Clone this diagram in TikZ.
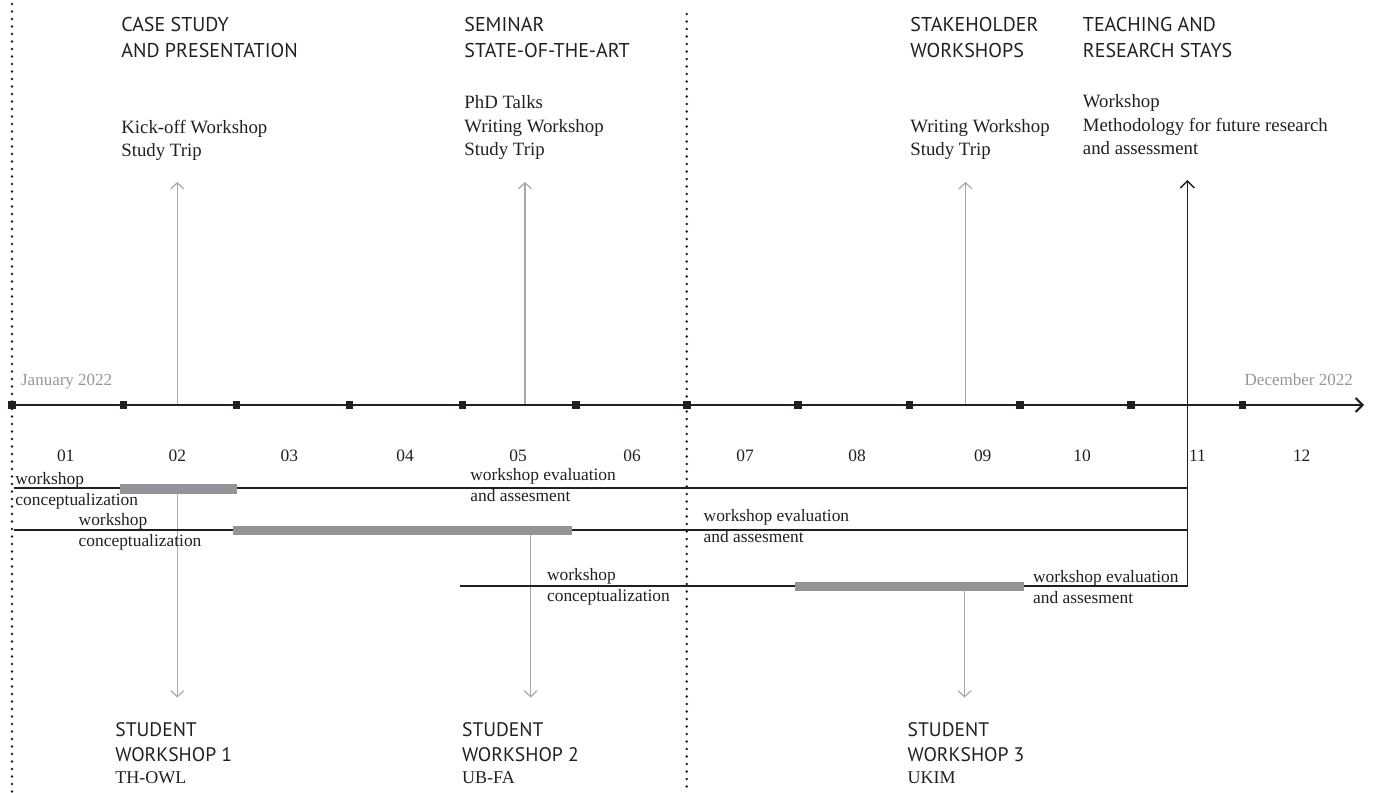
\documentclass[tikz,border=0pt]{standalone}
\usepackage{fontspec}
\setmainfont{Liberation Serif}
\newfontfamily\hsans{PT Sans}
\usetikzlibrary{arrows.meta}
\definecolor{ink}{RGB}{35,31,32}
\definecolor{lgray}{RGB}{168,168,172}
\definecolor{bargray}{RGB}{147,147,152}
\definecolor{dategray}{RGB}{150,150,150}
\tikzset{
 heading/.style={font=\hsans\fontsize{10}{12.8}\selectfont, text=ink, align=left, anchor=base west, inner sep=0pt},
 subhead/.style={font=\hsans\fontsize{9.8}{12.85}\selectfont, text=ink, align=left, anchor=base west, inner sep=0pt},
 body/.style={font=\fontsize{9.4}{11.75}\selectfont, text=ink, align=left, anchor=base west, inner sep=0pt},
 note/.style={font=\fontsize{8.7}{10.5}\selectfont, text=ink, align=left, anchor=base west, inner sep=0pt},
 place/.style={font=\fontsize{9}{11}\selectfont, text=ink, anchor=base west, inner sep=0pt},
 month/.style={font=\fontsize{8.7}{11}\selectfont, text=ink, anchor=base, inner sep=0pt},
 datelbl/.style={font=\fontsize{8.5}{11}\selectfont, text=dategray, anchor=base west, inner sep=0pt},
 tick/.style={rectangle, fill=ink, minimum size=3.75pt, inner sep=0pt, draw=none},
 axisline/.style={draw=ink, line width=1pt, -{Straight Barb[length=3.5pt,width=7pt]}},
 tline/.style={draw=ink, line width=0.65pt},
 garrow/.style={draw=lgray, line width=0.6pt, -{Straight Barb[length=3pt,width=6.5pt]}},
 karrow/.style={draw=ink, line width=0.7pt, line join=miter, -{Straight Barb[length=3.5pt,width=7pt]}},
 dotline/.style={draw=ink, line width=1.4pt, line cap=round, dash pattern=on 0pt off 3.75pt},
 bar/.style={fill=bargray},
}
\begin{document}
\begin{tikzpicture}[x=0.5pt,y=-0.5pt]
\useasboundingbox (0,0) rectangle (1375,792);

% dotted separators
\coordinate (dl1) at (12,4);
\coordinate (dl2) at (12,792);
\coordinate (dm1) at (686.7,14);
\coordinate (dm2) at (686.7,792);
\draw[dotline] (dl1) -- (dl2);
\draw[dotline] (dm1) -- (dm2);

% top gray arrows (from axis up)
\coordinate (a1) at (177.3,405);  \coordinate (a1t) at (177.3,182);
\coordinate (a2) at (525,405);    \coordinate (a2t) at (525,182);
\coordinate (a3) at (965.5,405);  \coordinate (a3t) at (965.5,182);
\draw[garrow] (a1) -- (a1t);
\draw[garrow] (a2) -- (a2t);
\draw[garrow] (a3) -- (a3t);

% bottom gray arrows (from bars down)
\coordinate (d1) at (177.3,494);  \coordinate (d1t) at (177.3,697.5);
\coordinate (d2) at (530.7,534);  \coordinate (d2t) at (530.7,697.5);
\coordinate (d3) at (964.5,590);  \coordinate (d3t) at (964.5,697.5);
\draw[garrow] (d1) -- (d1t);
\draw[garrow] (d2) -- (d2t);
\draw[garrow] (d3) -- (d3t);

% time axis
\coordinate (axend) at (1364,405);
\foreach \x [count=\i from 0] in {12,123.7,236.7,349.7,462.7,576,687,798,909.3,1020,1131,1242.3}
  \node[tick] (t\i) at (\x,405) {};
\draw[axisline] (t0) -- (axend);

\node[datelbl] (jan) at (20.7,385) {January 2022};
\node[datelbl] (dec) at (1244.3,385) {December 2022};

% months
\foreach \x/\m in {65.7/01,177.3/02,289.3/03,405/04,518/05,632/06,745/07,857/08,982.7/09,1082/10,1197.5/11,1301.7/12}
  \node[month] (m\m) at (\x,461.7) {\m};

% timelines
\coordinate (l1s) at (14,488);   \coordinate (l1e) at (1187.3,488);
\coordinate (l2s) at (14,530);   \coordinate (l2e) at (1187.3,530);
\coordinate (l3s) at (460,586);  \coordinate (l3e) at (1187.3,586);
\coordinate (ktop) at (1187.3,180);
\draw[tline] (l1s) -- (l1e);
\draw[tline] (l2s) -- (l2e);
\draw[karrow] (l3s) -- (l3e) -- (ktop);

% bars
\fill[bar] (120,484) rectangle (236.7,494);
\fill[bar] (233,525.5) rectangle (571.7,534.5);
\fill[bar] (795,581.5) rectangle (1024,590.5);

% timeline notes (anchor = baseline of last line)
\node[note] (n1a) at (15,505) {workshop\\conceptualization};
\node[note] (n1b) at (470,501) {workshop evaluation\\and assesment};
\node[note] (n2a) at (78.3,546) {workshop\\conceptualization};
\node[note] (n2b) at (703.3,542.7) {workshop evaluation\\and assesment};
\node[note] (n3a) at (546.7,601.7) {workshop\\conceptualization};
\node[note] (n3b) at (1032.7,603.3) {workshop evaluation\\and assesment};

% top headings
\node[heading] (h1) at (121,57.3) {CASE STUDY\\AND PRESENTATION};
\node[heading] (h2) at (464,57.3) {SEMINAR\\STATE-OF-THE-ART};
\node[heading] (h3) at (910,57.3) {STAKEHOLDER\\WORKSHOPS};
\node[heading] (h4) at (1082.5,57.3) {TEACHING AND\\RESEARCH STAYS};

\node[body] (b1) at (121,156.5) {Kick-off Workshop\\Study Trip};
\node[body] (b2) at (464,155.5) {PhD Talks\\Writing Workshop\\Study Trip};
\node[body] (b3) at (910,155.5) {Writing Workshop\\Study Trip};
\node[body] (b4) at (1082.5,155) {Workshop\\Methodology for future research\\and assessment};

% bottom
\node[subhead] (s1) at (115,761.7) {STUDENT\\WORKSHOP 1};
\node[place] (u1) at (115,783.3) {TH-OWL};
\node[subhead] (s2) at (461.7,761.7) {STUDENT\\WORKSHOP 2};
\node[place] (u2) at (461.7,783.3) {UB-FA};
\node[subhead] (s3) at (907.3,761.7) {STUDENT\\WORKSHOP 3};
\node[place] (u3) at (907.3,783.3) {UKIM};
\end{tikzpicture}
\end{document}
